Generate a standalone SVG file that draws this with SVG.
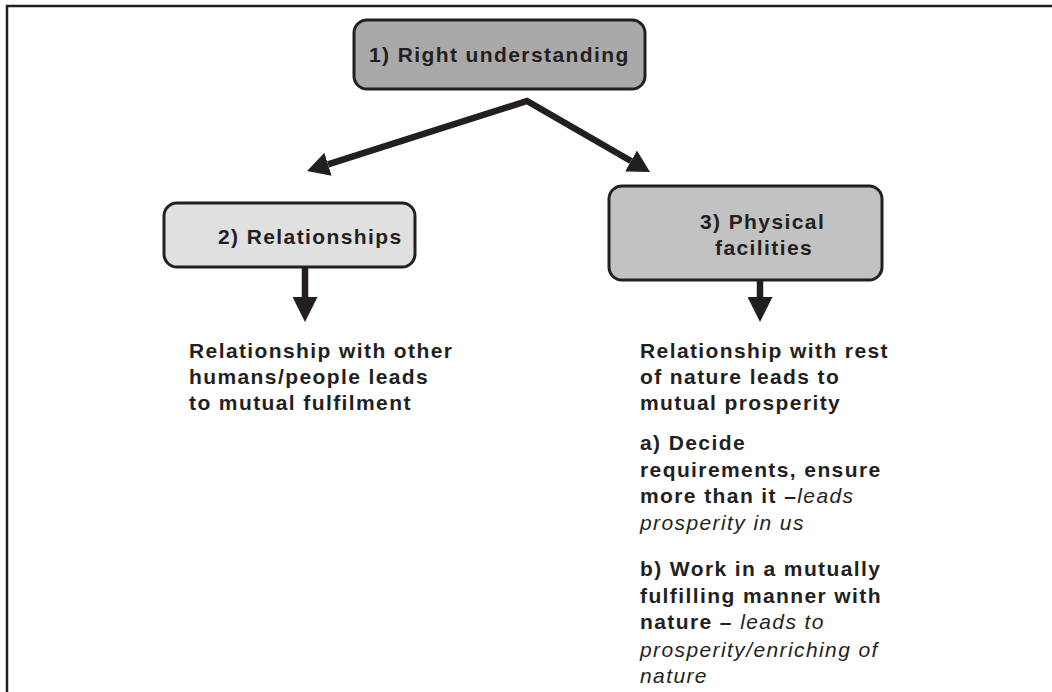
<svg xmlns="http://www.w3.org/2000/svg" width="1052" height="692" viewBox="0 0 1052 692">
<defs>
<style>
.box{stroke:#231f20;stroke-width:3}
.t{font-family:"Liberation Sans",Arial,sans-serif;font-size:21px;font-weight:bold;letter-spacing:1.4px;fill:#231f20}
.i{font-weight:normal;font-style:italic}
.c{fill:none;stroke:#231f20;stroke-width:6.5;stroke-linejoin:miter;stroke-miterlimit:10}
</style>
<marker id="ah" viewBox="0 -12 22 24" markerUnits="userSpaceOnUse" markerWidth="22" markerHeight="24" refX="0" refY="0" orient="auto-start-reverse">
<path d="M0,-12 L22,0 L0,12 Z" fill="#231f20"/>
</marker>
<marker id="ad" viewBox="0 -12.5 25 25" markerUnits="userSpaceOnUse" markerWidth="25" markerHeight="25" refX="0" refY="0" orient="auto">
<path d="M0,-12.5 L25,0 L0,12.5 Z" fill="#231f20"/>
</marker>
</defs>
<rect width="1052" height="692" fill="#ffffff"/>
<path d="M7,692 V6 H1052" fill="none" stroke="#231f20" stroke-width="2.5"/>
<g id="connectors">
<path class="c" d="M328,164.3 L527,101 L631,161" marker-start="url(#ah)" marker-end="url(#ah)"/>
<path class="c" d="M305,267 V297" marker-end="url(#ad)"/>
<path class="c" d="M760,280 V297" marker-end="url(#ad)"/>
</g>
<g id="node1">
<rect class="box" x="354" y="20" width="291" height="69" rx="13" fill="#a9a9a9"/>
<text class="t" x="369" y="62">1) Right understanding</text>
</g>
<g id="node2">
<rect class="box" x="164" y="203" width="251" height="64" rx="13" fill="#e0e0e0"/>
<text class="t" x="218" y="244">2) Relationships</text>
</g>
<g id="node3">
<rect class="box" x="609" y="186" width="273" height="94" rx="13" fill="#c2c2c2"/>
<text class="t" x="700" y="229">3) Physical</text>
<text class="t" x="715" y="255">facilities</text>
</g>
<g id="text-left">
<text class="t" x="189" y="358">Relationship with other</text>
<text class="t" x="189" y="384">humans/people leads</text>
<text class="t" x="189" y="410">to mutual fulfilment</text>
</g>
<g id="text-right">
<text class="t" x="640" y="358">Relationship with rest</text>
<text class="t" x="640" y="384">of nature leads to</text>
<text class="t" x="640" y="410">mutual prosperity</text>
<text class="t" x="640" y="450">a) Decide</text>
<text class="t" x="640" y="477">requirements, ensure</text>
<text class="t" x="640" y="503">more than it –<tspan class="i">leads</tspan></text>
<text class="t i" x="640" y="530">prosperity in us</text>
<text class="t" x="640" y="576">b) Work in a mutually</text>
<text class="t" x="640" y="603">fulfilling manner with</text>
<text class="t" x="640" y="629">nature – <tspan class="i">leads to</tspan></text>
<text class="t i" x="640" y="657">prosperity/enriching of</text>
<text class="t i" x="640" y="683">nature</text>
</g>
</svg>
